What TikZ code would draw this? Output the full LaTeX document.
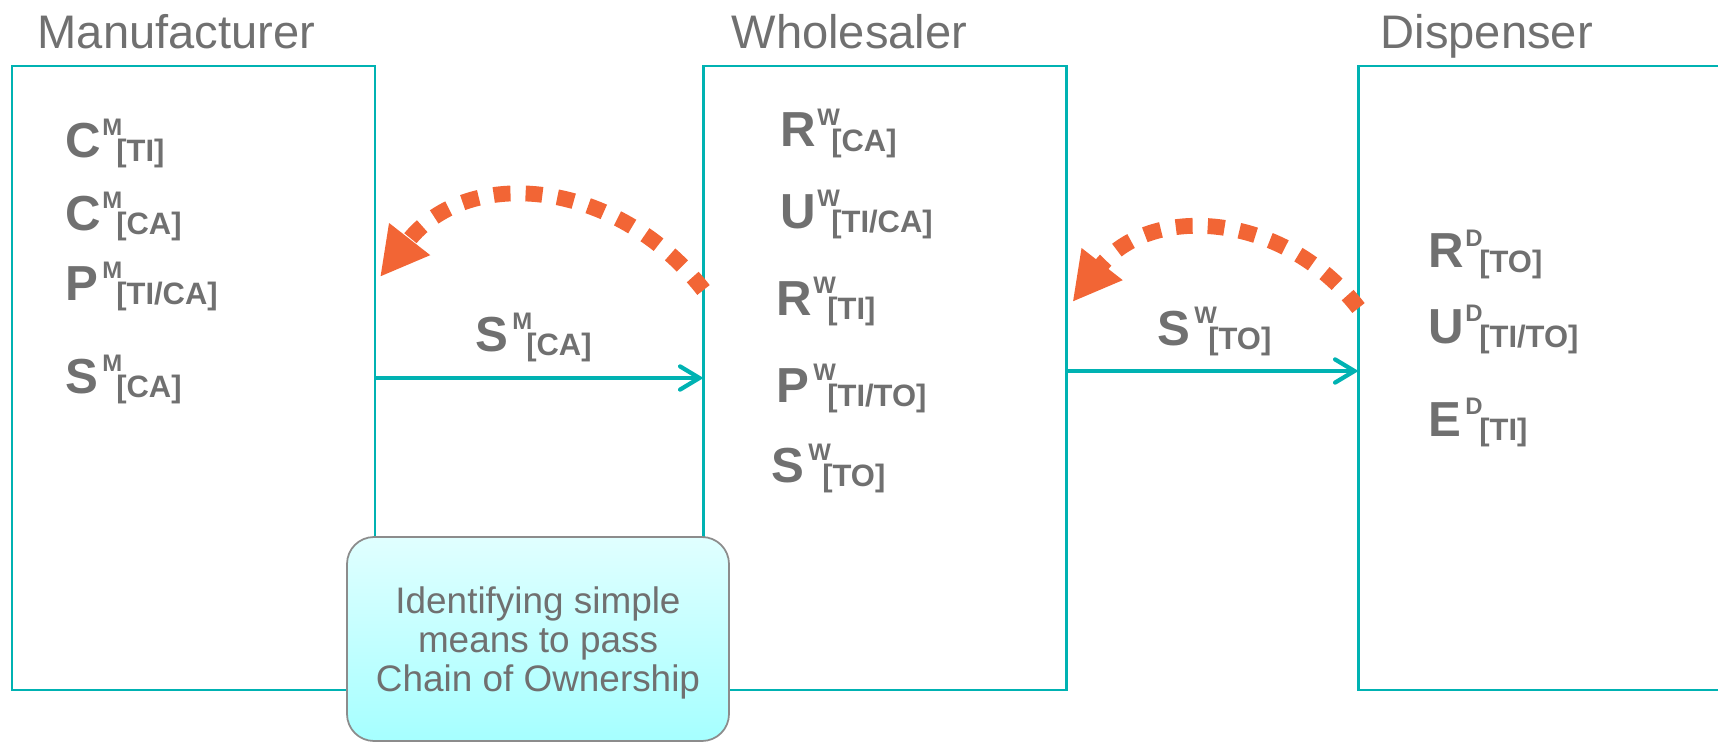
\documentclass[tikz,border=0pt]{standalone}
\usepackage{fontspec}
\setmainfont{Liberation Sans}
\usetikzlibrary{arrows.meta}

\definecolor{boxcyan}{RGB}{0,178,178}
\definecolor{backorange}{RGB}{242,101,53}
\definecolor{txtgray}{RGB}{112,112,112}

% big letter, superscript and subscript
\newcommand\term[3]{%
	\makebox[10.4pt][l]{\fontsize{14}{15}\selectfont\bfseries #1}%
	\rlap{\raisebox{6.1pt}{\fontsize{6.8}{7}\selectfont\bfseries #2}}%
	\hspace{4pt}\raisebox{-1.4pt}{\fontsize{8.8}{9}\selectfont\bfseries #3}}

\begin{document}
\begin{tikzpicture}[
		party/.style = {
			draw=boxcyan, rectangle, line width=0.6pt,
			minimum width=3.63cm,
			minimum height=6.24cm,
			outer sep=0cm, inner sep=0cm
		},
		title/.style = {
			anchor=base west, inner sep=0cm, text=txtgray,
			font=\fontsize{13.4}{14}\selectfont
		},
		item/.style = {anchor=base west, inner sep=0cm, text=txtgray},
		flow/.style = {draw=boxcyan, line width=1.2pt,
			-{Straight Barb[length=5.5pt,width=6.6pt,line cap=round]}},
		back/.style = {draw=backorange, line width=4.5pt,
			dash pattern=on 4.8pt off 4.3pt,
			-{Triangle[length=13.7pt,width=13.8pt]}},
		note/.style = {
			draw=gray!90, line width=0.5pt, rectangle,
			rounded corners=0.27cm,
			top color=cyan!12, bottom color=cyan!35,
			minimum width=3.82cm, minimum height=2.04cm,
			align=center, text=txtgray, text depth=0pt,
			font=\fontsize{10.5}{11.1}\selectfont
		}
		]
		\useasboundingbox (0,0) rectangle (17.18,-7.42);
		%\draw[help lines] (0,0) grid (17,-7);
		\node[party] (manu) at (1.935,-3.78) {};
		\node[party] (whole) at (8.85,-3.78) {};
		\node[party] (disp) at (15.40,-3.78) {};
		
		\node[title] (tmanu) at (0.37,-0.49) {Manufacturer};
		\node[title] (twhole) at (7.31,-0.49) {Wholesaler};
		\node[title] (tdisp) at (13.80,-0.49) {Dispenser};
		
		\node[item] (cmti) at (0.65,-1.57) {\term{C}{M}{[TI]}};
		\node[item] (cmca) at (0.65,-2.30) {\term{C}{M}{[CA]}};
		\node[item] (pm) at (0.65,-3.00) {\term{P}{M}{[TI/CA]}};
		\node[item] (sm) at (0.65,-3.93) {\term{S}{M}{[CA]}};
		
		\node[item] (rwca) at (7.80,-1.47) {\term{R}{W}{[CA]}};
		\node[item] (uw) at (7.80,-2.28) {\term{U}{W}{[TI/CA]}};
		\node[item] (rwti) at (7.76,-3.15) {\term{R}{W}{[TI]}};
		\node[item] (pw) at (7.76,-4.02) {\term{P}{W}{[TI/TO]}};
		\node[item] (sw) at (7.71,-4.82) {\term{S}{W}{[TO]}};
		
		\node[item] (rd) at (14.28,-2.68) {\term{R}{D}{[TO]}};
		\node[item] (ud) at (14.28,-3.43) {\term{U}{D}{[TI/TO]}};
		\node[item] (ed) at (14.28,-4.36) {\term{E}{D}{[TI]}};
		
		\node[item] (lblsm) at (4.75,-3.51) {\term{S}{M}{[CA]}};
		\node[item] (lblsw) at (11.57,-3.45) {\term{S}{W}{[TO]}};
		
		\draw[flow] (manu.east) -- (whole.west);
		\draw[flow] ([yshift=0.07cm]whole.east) -- ([yshift=0.07cm]disp.west);
		
		\draw[back] ([yshift=0.88cm]whole.west) to[out=128, in=52, looseness=1.12] ([shift={(0.05,1.01)}]manu.east);
		\draw[back] ([yshift=0.70cm]disp.west) to[out=128, in=52, looseness=1.11] ([shift={(0.06,0.76)}]whole.east);
		
		\node[note] (chain) at (5.38,-6.39) {Identifying simple\\means to pass\\Chain of Ownership};
	\end{tikzpicture}
\end{document}
